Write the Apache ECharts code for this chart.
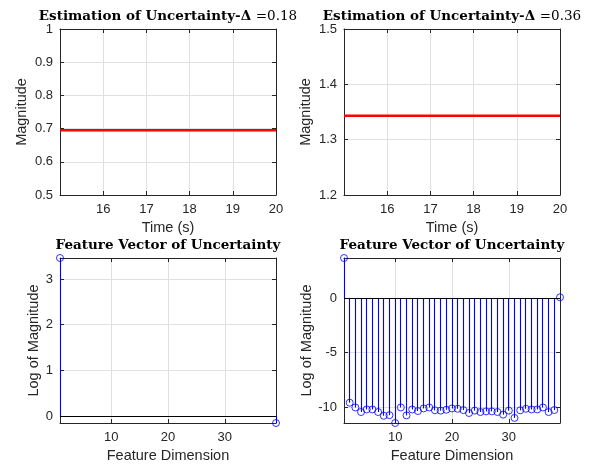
<!DOCTYPE html>
<html><head><meta charset="utf-8">
<script src="https://cdn.jsdelivr.net/npm/echarts@6/dist/echarts.min.js"></script>
<style>html,body{margin:0;padding:0;background:#fff}#c{width:593px;height:465px}</style>
</head><body><div id="c"></div>
<script>
// ---- data ----
const timeS = [15, 16, 17, 18, 19, 20];
const magnitudeD018 = [0.695, 0.695, 0.695, 0.695, 0.695, 0.695];
const magnitudeD036 = [1.343, 1.343, 1.343, 1.343, 1.343, 1.343];
const featureDim = [1,2,3,4,5,6,7,8,9,10,11,12,13,14,15,16,17,18,19,20,21,22,23,24,25,26,27,28,29,30,31,32,33,34,35,36,37,38,39];
const logMagD018 = [3.46, null, null, null, null, null, null, null, null, null, null, null, null, null, null, null, null, null, null, null, null, null, null, null, null, null, null, null, null, null, null, null, null, null, null, null, null, null, -0.155];
const logMagD036 = [3.72, -9.6, -10.04, -10.46, -10.22, -10.22, -10.46, -10.8, -10.75, -11.47, -10.04, -10.77, -10.22, -10.37, -10.13, -10.04, -10.3, -10.33, -10.25, -10.13, -10.16, -10.28, -10.55, -10.33, -10.46, -10.4, -10.4, -10.46, -10.7, -10.33, -11.0, -10.3, -10.16, -10.22, -10.22, -10.04, -10.46, -10.28, 0.1];
const titleTop = ['Estimation of Uncertainty-\u0394 ', 'Estimation of Uncertainty-\u0394 '];
const titleTopVal = ['=0.18', '=0.36'];
const titleBottom = 'Feature Vector of Uncertainty';
const xNameTop = 'Time (s)';
const xNameBottom = 'Feature Dimension';
const yNameTop = 'Magnitude';
const yNameBottom = 'Log of Magnitude';

// ---- layout ----
const grids = [
  {left: 60, top: 29, width: 216, height: 166},
  {left: 344, top: 29, width: 216, height: 166},
  {left: 60, top: 258, width: 216, height: 165},
  {left: 344, top: 258, width: 216, height: 165}
];
const AX = '#262626', GRIDC = '#e0e0e0';
const sans = 'Liberation Sans, Arial, sans-serif';

function validVals(a){ return a.filter(v => v != null); }
const yr = [
  {min: 0.5, max: 1, interval: 0.1},
  {min: 1.2, max: 1.5, interval: 0.1},
  {min: Math.min(...validVals(logMagD018)), max: Math.max(...validVals(logMagD018)), splitNumber: 4},
  {min: Math.min(...validVals(logMagD036)), max: Math.max(...validVals(logMagD036)), splitNumber: 3}
];
const xr = [
  {min: timeS[0], max: timeS[timeS.length-1], interval: 1},
  {min: timeS[0], max: timeS[timeS.length-1], interval: 1},
  {min: featureDim[0], max: featureDim[featureDim.length-1], splitNumber: 4},
  {min: featureDim[0], max: featureDim[featureDim.length-1], splitNumber: 4}
];
const yNameGap = [31, 31, 17, 29];

const xAxis = [], yAxis = [];
for (let g = 0; g < 4; g++) {
  const top = g < 2;
  xAxis.push(Object.assign({
    type: 'value', gridIndex: g, position: 'bottom',
    name: top ? xNameTop : xNameBottom, nameLocation: 'middle', nameGap: 25,
    nameTextStyle: {fontFamily: sans, fontSize: 14.5, color: '#262626'},
    axisLine: {show: true, onZero: false, lineStyle: {color: AX, width: 1}},
    axisTick: {show: true, inside: true, length: 4, lineStyle: {color: AX}},
    axisLabel: {fontFamily: sans, fontSize: 13, color: '#262626', margin: 8, showMinLabel: false, showMaxLabel: top},
    splitLine: {show: true, lineStyle: {color: GRIDC, width: 1}}
  }, xr[g]));
  xAxis.push(Object.assign({
    type: 'value', gridIndex: g, position: 'top',
    axisLine: {show: true, onZero: false, lineStyle: {color: AX, width: 1}},
    axisTick: {show: true, inside: true, length: 4, lineStyle: {color: AX}},
    axisLabel: {show: false}, splitLine: {show: false}
  }, xr[g]));
  yAxis.push(Object.assign({
    type: 'value', gridIndex: g, position: 'left',
    name: top ? yNameTop : yNameBottom, nameLocation: 'middle', nameGap: yNameGap[g], nameRotate: 90,
    nameTextStyle: {fontFamily: sans, fontSize: 14.5, color: '#262626'},
    axisLine: {show: true, onZero: false, lineStyle: {color: AX, width: 1}},
    axisTick: {show: true, inside: true, length: 4, lineStyle: {color: AX}},
    axisLabel: {fontFamily: sans, fontSize: 13, color: '#262626', margin: 7, showMinLabel: top, showMaxLabel: top},
    splitLine: {show: true, lineStyle: {color: GRIDC, width: 1}}
  }, yr[g]));
  yAxis.push(Object.assign({
    type: 'value', gridIndex: g, position: 'right',
    axisLine: {show: true, onZero: false, lineStyle: {color: AX, width: 1}},
    axisTick: {show: true, inside: true, length: 4, lineStyle: {color: AX}},
    axisLabel: {show: false}, splitLine: {show: false}
  }, yr[g]));
}

function stemSeries(g, vals) {
  const pts = [];
  featureDim.forEach((d, i) => { if (vals[i] != null) pts.push([d, vals[i]]); });
  return [
    {
      type: 'custom', xAxisIndex: g*2, yAxisIndex: g*2, clip: false, z: 3,
      renderItem: function (params, api) {
        const x = api.value(0), y = api.value(1);
        const p0 = api.coord([x, 0]), p1 = api.coord([x, y]);
        const px = Math.round(p0[0] - 0.5) + 0.5;
        return {type: 'line', shape: {x1: px, y1: p0[1], x2: px, y2: p1[1]},
                style: {stroke: '#0000ff', lineWidth: 1.1}};
      },
      data: pts, silent: true
    },
    {
      type: 'scatter', xAxisIndex: g*2, yAxisIndex: g*2, clip: false, z: 4,
      symbol: 'circle', symbolSize: 7,
      itemStyle: {color: 'rgba(0,0,0,0)', borderColor: '#0000ff', borderWidth: 1},
      data: pts, silent: true,
      markLine: {silent: true, symbol: 'none', label: {show: false}, animation: false,
        lineStyle: {color: '#000000', width: 1, type: 'solid'}, data: [{yAxis: 0}]}
    }
  ];
}

const series = [
  {type: 'line', xAxisIndex: 0, yAxisIndex: 0, showSymbol: false, symbol: 'none',
   data: timeS.map((t, i) => [t, magnitudeD018[i]]), lineStyle: {color: '#ff0000', width: 2.5}, z: 3},
  {type: 'line', xAxisIndex: 2, yAxisIndex: 2, showSymbol: false, symbol: 'none',
   data: timeS.map((t, i) => [t, magnitudeD036[i]]), lineStyle: {color: '#ff0000', width: 2.5}, z: 3},
  ...stemSeries(2, logMagD018),
  ...stemSeries(3, logMagD036)
];

const serif = 'DejaVu Serif, Liberation Serif, serif';
function mkTitle(cx, top, bold, normal) {
  return {
    text: normal ? '{b|' + bold + '}{n|' + normal + '}' : '{b|' + bold + '}',
    left: cx, top: top, textAlign: 'center', padding: 0,
    textStyle: {rich: {
      b: {fontFamily: serif, fontWeight: 'bold', fontSize: 13.5, color: '#000'},
      n: {fontFamily: serif, fontWeight: 'normal', fontSize: 13.5, color: '#000'}
    }}
  };
}
const title = [
  mkTitle(168, 9, titleTop[0], titleTopVal[0]),
  mkTitle(452, 9, titleTop[1], titleTopVal[1]),
  mkTitle(168, 238, titleBottom, null),
  mkTitle(452, 238, titleBottom, null)
];

const chart = echarts.init(document.getElementById('c'), null, {renderer: 'canvas'});
chart.setOption({animation: false, backgroundColor: '#ffffff', title, grid: grids, xAxis, yAxis, series});
</script></body></html>
